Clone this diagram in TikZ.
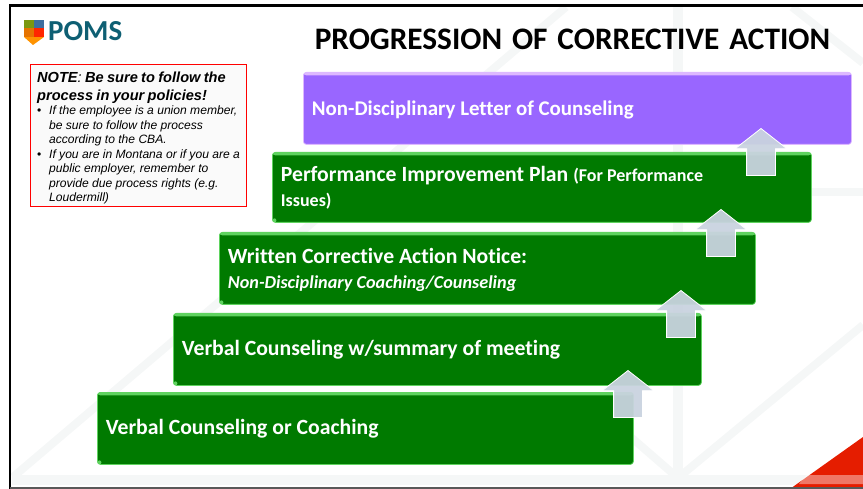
\documentclass[tikz,border=0pt]{standalone}
\usepackage{fontspec}
\setmainfont{Carlito}[Ligatures=NoCommon]
\newfontfamily\titlefont{Carlito}[Ligatures=NoCommon, WordSpace=1.4]
\newfontfamily\notefont{Liberation Sans}
\usetikzlibrary{shapes.arrows}
\definecolor{stepgreen}{HTML}{007A00}
\definecolor{steplight}{HTML}{5FD35F}
\definecolor{steppurple}{HTML}{9966FF}
\definecolor{purplelight}{HTML}{DDB8FF}
\definecolor{faint}{HTML}{F5F7F7}
\definecolor{uparrow}{HTML}{C9D3DF}
\definecolor{pomsteal}{HTML}{0E5F73}
\tikzset{
    stepbox/.style={draw=steplight, fill=stepgreen, line width=0.8pt, rounded corners=3pt,
        anchor=north west, inner xsep=8.5pt, inner ysep=0pt, align=flush left, text=white,
        font=\fontsize{21.7}{25}\selectfont\bfseries,
        path picture={\fill[steplight] ([yshift=-3pt]path picture bounding box.north west) rectangle (path picture bounding box.north east);
            \fill[steplight] ([shift={(2pt,2pt)}]path picture bounding box.south west) circle (2pt);}},
    purplebox/.style={stepbox, draw=purplelight, fill=steppurple,
        path picture={\fill[purplelight] ([yshift=-3pt]path picture bounding box.north west) rectangle (path picture bounding box.north east);}},
    uparrowshape/.style={single arrow, shape border rotate=90, fill=uparrow, draw=white, line width=0.8pt,
        fill opacity=0.95, inner xsep=14pt, inner ysep=0pt, minimum height=47pt, minimum width=51pt,
        single arrow head extend=11.5pt, single arrow tip angle=104, anchor=tip},
    faintline/.style={draw=faint, line width=8pt}
}
\begin{document}
\begin{tikzpicture}[x=1pt, y=-1pt]
    \useasboundingbox (0, 0) rectangle (863, 489);
    % background lines
    \draw[faintline, line width=10pt] (678, 7) -- (678, 478);
    \draw[faintline] (13, 477) -- (566, 7);
    \draw[faintline] (678, 478) -- (863, 325);
    \draw[faintline] (678, 478) -- (625, 432);
    \draw[faintline] (792, 7) -- (863, 63);
    \draw[faintline] (810, 192) -- (863, 192);
    \draw[faintline, line width=10pt] (12, 480) -- (863, 480);
    % red corner
    \fill[red!75!orange!90!black] (792, 487.5) -- (863, 437) -- (863, 487.5) -- cycle;
    \fill[white, opacity=0.4] (806, 475) -- (863, 475) -- (863, 484) -- (799, 484) -- cycle;
    % frame
    \draw[black, line width=2.5pt] (10, 489) -- (10, 5.5) -- (863, 5.5);
    \draw[black!65, line width=1.2pt] (10, 488) -- (863, 488);
    % logo
    \fill[orange!85!yellow] (24, 37) -- (33, 37) -- (33, 45) -- cycle;
    \fill[orange!85!yellow] (33, 37) -- (44, 37) -- (33, 45) -- cycle;
    \fill[red!70!orange] (34, 28) -- (44, 28) -- (44, 37) -- (34, 37) -- cycle;
    \fill[olive!70!green] (24, 20) -- (34, 20) -- (34, 28) -- (24, 28) -- cycle;
    \fill[orange!90!black] (24, 28) -- (34, 28) -- (34, 37) -- (24, 37) -- cycle;
    \fill[cyan!60!blue!70!black] (34, 20) -- (44, 20) -- (44, 28) -- (34, 28) -- cycle;
    \node[anchor=west, inner sep=0pt, text=pomsteal] (logo) at (48, 31)
        {\fontsize{29}{30}\selectfont\bfseries POMS};
    % title
    \node[inner sep=0pt] (title) at (572.5, 39)
        {\titlefont\fontsize{31.3}{34}\selectfont\bfseries PROGRESSION OF CORRECTIVE ACTION};
    % note
    \node[draw=red, line width=1.3pt, fill=black!2, anchor=north west, minimum width=216pt, minimum height=142pt,
        inner xsep=6.5pt, inner ysep=1pt, text width=203pt, align=left, text=black] (note) at (30, 64) {\notefont\itshape
        \fontsize{14.6}{18}\selectfont\rule{0pt}{15pt}\textbf{NOTE}: \textbf{Be sure to follow the}\\
        \textbf{process in your policies!}\par
        \fontsize{12.1}{14.5}\selectfont
        \makebox[12pt][l]{\upshape\textbullet}If the employee is a union member,\\
        \hspace*{12pt}be sure to follow the process\\
        \hspace*{12pt}according to the CBA.\\
        \makebox[12pt][l]{\upshape\textbullet}If you are in Montana or if you are a\\
        \hspace*{12pt}public employer, remember to\\
        \hspace*{12pt}provide due process rights (e.g.\\
        \hspace*{12pt}Loudermill)\par};
    % steps
    \node[purplebox, minimum width=548pt, minimum height=72pt, text width=531pt, font=\fontsize{20.9}{25}\selectfont\bfseries] (letter) at (303, 72)
        {\rule{0pt}{18pt}Non-Disciplinary Letter of Counseling};
    \node[stepbox, minimum width=539pt, minimum height=70pt, text width=522pt] (plan) at (272, 152)
        {Performance Improvement Plan {\fontsize{18}{25}\selectfont(For Performance}\\{\fontsize{18}{25}\selectfont Issues)}\par};
    \node[stepbox, minimum width=536pt, minimum height=72pt, text width=519pt] (notice) at (219, 232)
        {\rule{0pt}{19pt}Written Corrective Action Notice:\\{\fontsize{18.2}{25}\selectfont\itshape Non-Disciplinary Coaching/Counseling}\par};
    \node[stepbox, minimum width=528pt, minimum height=72pt, text width=511pt] (summary) at (173, 313)
        {Verbal Counseling w/summary of meeting};
    \node[stepbox, minimum width=536pt, minimum height=72pt, text width=519pt] (coaching) at (97, 392)
        {Verbal Counseling or Coaching};
    % arrows
    \foreach \name/\tipx/\tipy in {one/628/370, two/681/290, three/721/209, four/761/128}
        \node[uparrowshape] (arrow\name) at (\tipx, \tipy) {};
\end{tikzpicture}
\end{document}
